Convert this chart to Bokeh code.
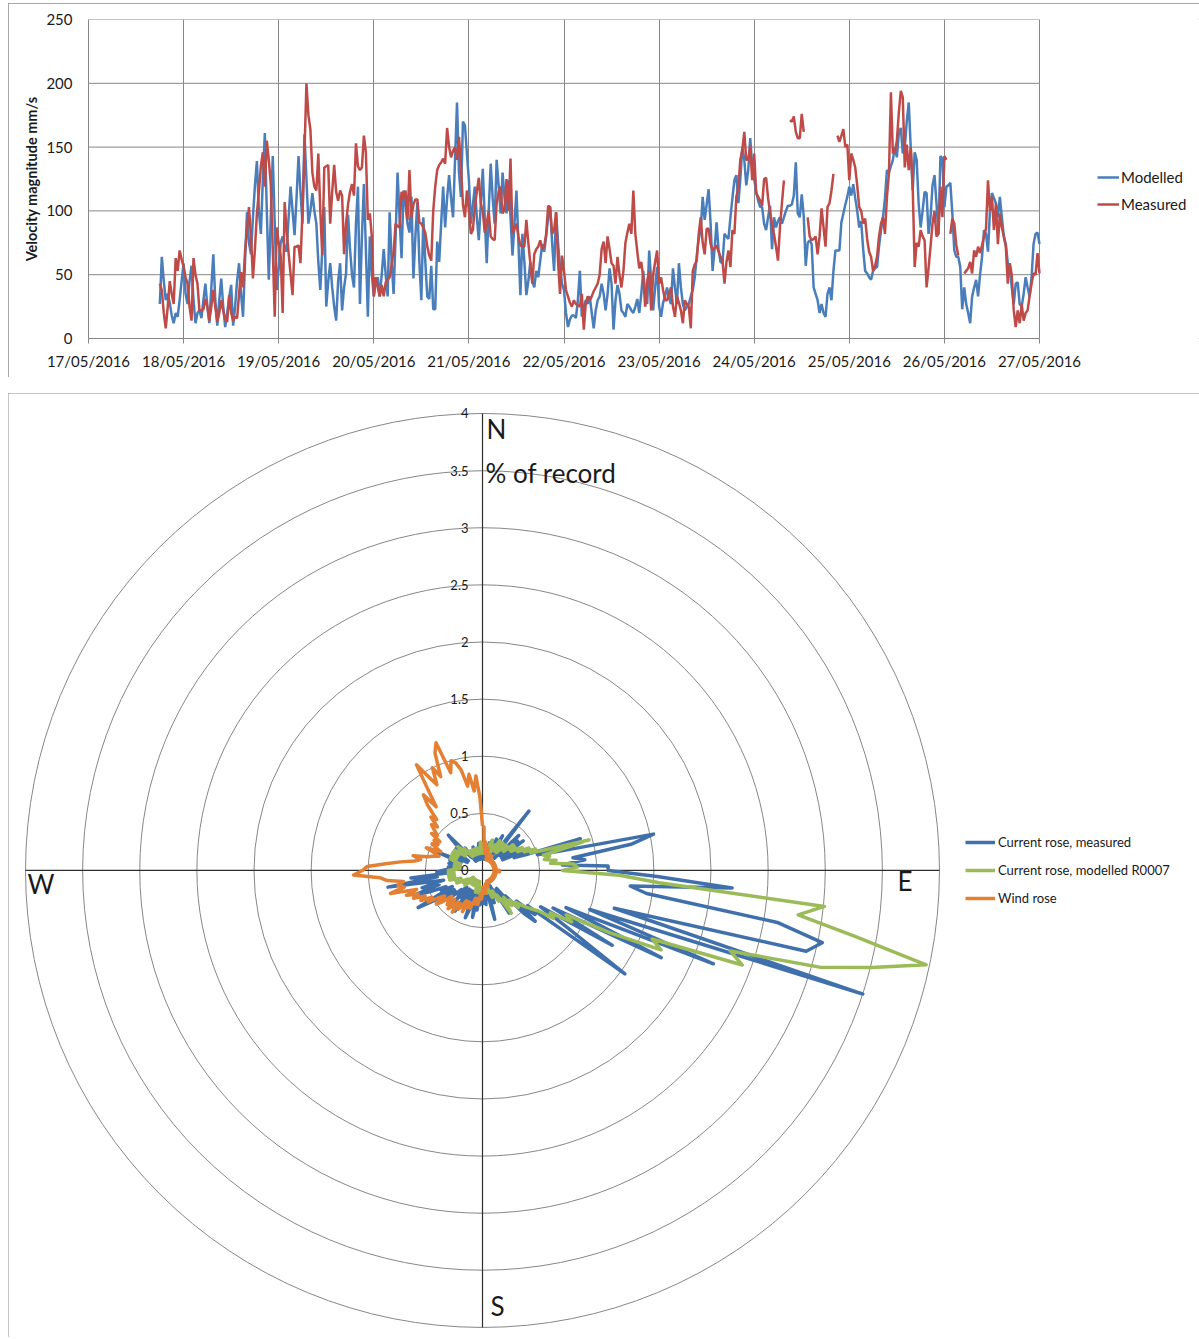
from datetime import datetime, timedelta
import numpy as np
import pandas as pd
from bokeh.plotting import figure
from bokeh.models import (Range1d, DatetimeTickFormatter, DaysTicker, FixedTicker,
                          Legend, LegendItem)
from bokeh.core.properties import value
from bokeh.embed import file_html
from bokeh.resources import INLINE

nan = float("nan")

# ---------------- time series data (30-min samples from 17/05/2016 18:00) ----------------
series_start = "2016-05-17 18:00"
sample_interval = "30min"

modelled = [
    27, 64, 45, 30, 35, 28, 18, 12, 20, 17,
    30, 45, 59, 35, 27, 45, 57, 30, 12, 20,
    22, 16, 30, 43, 25, 12, 40, 66, 30, 10,
    30, 47, 25, 9, 20, 32, 42, 10, 25, 45,
    59, 35, 17, 60, 99, 75, 66, 95, 120, 139,
    100, 82, 125, 161, 100, 46, 95, 143, 90, 38,
    55, 75, 80, 72, 68, 95, 119, 100, 81, 110,
    143, 115, 90, 160, 125, 90, 100, 114, 100, 90,
    60, 38, 70, 103, 25, 45, 59, 40, 25, 14,
    45, 59, 22, 40, 51, 97, 70, 50, 40, 90,
    119, 27, 80, 121, 70, 17, 80, 50, 33, 45,
    48, 33, 50, 70, 50, 33, 99, 60, 35, 80,
    130, 95, 63, 116, 105, 90, 83, 111, 47, 80,
    107, 60, 30, 95, 60, 33, 31, 57, 23, 23,
    76, 60, 90, 119, 87, 110, 128, 110, 95, 140,
    185, 130, 111, 170, 167, 145, 124, 90, 105, 119,
    95, 77, 105, 133, 95, 59, 100, 137, 110, 90,
    140, 120, 98, 130, 110, 98, 124, 95, 65, 90,
    116, 75, 34, 82, 60, 34, 45, 60, 45, 40,
    53, 48, 61, 74, 68, 80, 95, 103, 75, 53,
    99, 75, 55, 43, 38, 20, 9, 15, 18, 18,
    16, 30, 53, 17, 25, 30, 27, 33, 20, 8,
    22, 30, 33, 43, 35, 22, 35, 55, 43, 7,
    30, 42, 35, 22, 20, 17, 27, 25, 22, 20,
    25, 31, 20, 35, 53, 35, 27, 69, 45, 22,
    40, 56, 25, 17, 28, 33, 40, 32, 27, 55,
    40, 27, 59, 40, 27, 22, 25, 27, 33, 38,
    48, 65, 78, 85, 111, 93, 105, 117, 90, 53,
    70, 91, 70, 60, 59, 82, 80, 78, 95, 110,
    124, 128, 106, 125, 150, 140, 120, 132, 157, 135,
    125, 115, 108, 103, 103, 90, 85, 95, 104, 70,
    95, 87, 92, 95, 90, 95, 100, 104, 104, 105,
    112, 138, 98, 95, 113, 96, 57, 75, 77, 74,
    40, 35, 30, 20, 27, 20, 17, 35, 40, 30,
    53, 69, 69, 69, 91, 98, 105, 111, 119, 112,
    121, 110, 100, 87, 92, 70, 53, 51, 48, 46,
    53, 55, 56, 72, 85, 95, 110, 132, 130, 135,
    140, 150, 142, 161, 165, 145, 150, 170, 185, 150,
    116, 146, 140, 106, 87, 100, 115, 114, 82, 95,
    120, 128, 106, 82, 143, 141, 103, 119, 120, 122,
    98, 69, 64, 64, 56, 23, 40, 27, 20, 12,
    33, 40, 46, 33, 50, 64, 85, 82, 68, 100,
    114, 110, 106, 95, 111, 95, 80, 74, 59, 57,
    40, 27, 43, 44, 27, 25, 35, 48, 40, 33,
    48, 74, 82, 83, 74,
]

measured = [
    43, 38, 20, 8, 25, 45, 35, 27, 63, 53,
    69, 62, 56, 48, 43, 25, 14, 63, 50, 43,
    22, 22, 23, 31, 25, 14, 25, 38, 25, 13,
    20, 30, 22, 15, 13, 34, 20, 14, 17, 16,
    35, 52, 40, 68, 85, 103, 80, 47, 70, 98,
    115, 135, 146, 119, 155, 140, 121, 70, 17, 87,
    75, 65, 20, 107, 85, 67, 50, 34, 72, 72,
    73, 59, 100, 145, 200, 175, 164, 130, 119, 116,
    145, 100, 65, 134, 135, 136, 90, 115, 136, 115,
    108, 116, 112, 66, 90, 105, 115, 121, 112, 153,
    135, 132, 134, 159, 146, 93, 98, 80, 33, 48,
    40, 33, 42, 33, 44, 46, 48, 58, 68, 90,
    88, 87, 115, 109, 116, 93, 132, 95, 105, 109,
    109, 91, 90, 87, 83, 72, 65, 61, 100, 119,
    132, 136, 138, 141, 137, 165, 150, 142, 147, 150,
    140, 158, 135, 105, 95, 116, 100, 82, 85, 103,
    115, 126, 106, 100, 83, 90, 100, 80, 78, 77,
    106, 115, 119, 98, 101, 125, 100, 141, 82, 86,
    90, 80, 73, 72, 72, 93, 75, 59, 43, 66,
    70, 72, 77, 70, 72, 82, 104, 103, 82, 85,
    99, 60, 35, 65, 53, 38, 33, 28, 25, 30,
    27, 26, 25, 35, 7, 28, 33, 30, 33, 37,
    40, 43, 50, 70, 76, 59, 80, 70, 59, 57,
    43, 64, 50, 40, 53, 75, 83, 90, 82, 116,
    82, 68, 55, 60, 48, 25, 45, 53, 22, 50,
    60, 69, 43, 48, 38, 30, 30, 35, 40, 25,
    17, 33, 28, 22, 12, 30, 27, 25, 8, 53,
    58, 61, 82, 95, 75, 66, 86, 86, 74, 69,
    71, 73, 68, 64, 61, 43, 60, 69, 56, 85,
    82, 111, 119, 140, 148, 162, 140, 140, 151, 124,
    145, 114, 111, 108, 104, 125, 126, 110, 99, 90,
    82, 72, 61, 87, 106, 124, nan, nan, 171, 170,
    174, 162, 157, 157, 176, 162, nan, 95, 80, 77,
    78, 80, 66, 80, 102, 87, 72, 103, 106, 116,
    129, nan, 159, 154, 159, 164, 150, 152, 124, 145,
    140, 134, 120, 103, 100, 90, 94, 78, 68, 64,
    53, 57, 64, 80, 90, 95, 82, 111, 129, 193,
    145, 146, 155, 177, 194, 189, 134, 152, 132, 150,
    119, 56, 75, 72, 85, 80, 77, 40, 55, 72,
    90, 100, 80, 82, 119, 95, 143, 140, nan, 82,
    94, 90, 73, 65, nan, nan, 51, 53, 55, 60,
    51, 69, 64, 72, 67, 73, 80, 86, 124, 100,
    111, 85, 106, 74, 98, 87, 80, 72, 43, 59,
    50, 22, 9, 22, 12, 27, 14, 20, 22, 33,
    43, 51, 50, 67, 51,
]

axis_start_day = 17
axis_end_day = 27
velocity_ticks = [0, 50, 100, 150, 200, 250]

# ---------------- rose data (% of record per 2-degree direction bin) ----------------
directions_deg = list(range(0, 360, 2))

rose_measured = [
    0.2, 0.1, 0.15, 0.1, 0.2, 0.1, 0.15, 0.25, 0.1, 0.2,
    0.15, 0.1, 0.3, 0.15, 0.2, 0.35, 0.15, 0.25, 0.2, 0.66,
    0.2, 0.3, 0.15, 0.44, 0.2, 0.4, 0.25, 0.44, 0.2, 0.3,
    0.35, 0.2, 0.3, 0.45, 0.3, 0.4, 0.9, 0.5, 0.7, 1.53,
    1.32, 0.8, 0.9, 0.7, 1.1, 1.1, 1.53, 2.19, 1.3, 1.45,
    2.62, 3.04, 2.92, 1.2, 3.5, 1.0, 2.18, 0.8, 1.74, 0.7,
    1.31, 0.6, 0.9, 1.54, 0.5, 0.6, 0.4, 0.64, 0.52, 0.3,
    0.35, 0.2, 0.3, 0.25, 0.44, 0.2, 0.3, 0.15, 0.25, 0.2,
    0.3, 0.15, 0.2, 0.44, 0.2, 0.25, 0.15, 0.3, 0.2, 0.29,
    0.25, 0.15, 0.3, 0.2, 0.35, 0.2, 0.42, 0.3, 0.2, 0.35,
    0.44, 0.2, 0.3, 0.25, 0.35, 0.2, 0.3, 0.43, 0.2, 0.3,
    0.25, 0.35, 0.2, 0.3, 0.25, 0.4, 0.3, 0.45, 0.3, 0.49,
    0.65, 0.3, 0.4, 0.35, 0.5, 0.64, 0.4, 0.55, 0.35, 0.5,
    0.84, 0.4, 0.63, 0.3, 0.4, 0.35, 0.3, 0.25, 0.3, 0.2,
    0.25, 0.3, 0.2, 0.25, 0.3, 0.2, 0.42, 0.2, 0.25, 0.15,
    0.2, 0.3, 0.15, 0.25, 0.2, 0.3, 0.25, 0.3, 0.43, 0.2,
    0.15, 0.25, 0.1, 0.2, 0.15, 0.1, 0.2, 0.15, 0.1, 0.22,
    0.1, 0.15, 0.2, 0.1, 0.15, 0.2, 0.24, 0.15, 0.1, 0.2,
]

rose_modelled = [
    0.2, 0.15, 0.25, 0.2, 0.15, 0.2, 0.15, 0.2, 0.25, 0.28,
    0.2, 0.15, 0.2, 0.25, 0.2, 0.3, 0.2, 0.25, 0.3, 0.2,
    0.25, 0.3, 0.25, 0.3, 0.25, 0.35, 0.3, 0.35, 0.3, 0.35,
    0.4, 0.35, 0.45, 0.4, 0.5, 0.45, 0.6, 0.97, 0.55, 0.6,
    0.55, 0.65, 0.6, 0.8, 0.83, 0.7, 1.2, 1.55, 3.01, 2.79,
    3.3, 3.97, 3.51, 3.07, 2.28, 2.42, 1.6, 1.71, 1.25, 0.83,
    0.9, 0.7, 0.75, 0.6, 0.55, 0.5, 0.45, 0.4, 0.45, 0.35,
    0.4, 0.3, 0.35, 0.45, 0.3, 0.25, 0.3, 0.2, 0.25, 0.2,
    0.25, 0.2, 0.15, 0.2, 0.15, 0.2, 0.15, 0.2, 0.15, 0.2,
    0.15, 0.2, 0.15, 0.2, 0.15, 0.2, 0.15, 0.1, 0.15, 0.2,
    0.15, 0.1, 0.15, 0.1, 0.15, 0.1, 0.15, 0.1, 0.15, 0.1,
    0.15, 0.1, 0.15, 0.1, 0.15, 0.2, 0.15, 0.1, 0.15, 0.2,
    0.15, 0.2, 0.25, 0.2, 0.25, 0.2, 0.25, 0.3, 0.25, 0.3,
    0.25, 0.3, 0.25, 0.3, 0.25, 0.3, 0.25, 0.2, 0.25, 0.2,
    0.25, 0.2, 0.25, 0.2, 0.25, 0.3, 0.25, 0.3, 0.25, 0.3,
    0.25, 0.3, 0.25, 0.3, 0.25, 0.2, 0.25, 0.3, 0.25, 0.2,
    0.25, 0.2, 0.15, 0.2, 0.15, 0.2, 0.15, 0.2, 0.15, 0.2,
    0.15, 0.2, 0.15, 0.2, 0.15, 0.2, 0.15, 0.2, 0.25, 0.2,
]

wind_rose = [
    0.39, 0.38, 0.2, 0.25, 0.15, 0.2, 0.15, 0.2, 0.15, 0.1,
    0.15, 0.1, 0.15, 0.1, 0.15, 0.1, 0.15, 0.1, 0.12, 0.1,
    0.12, 0.1, 0.12, 0.1, 0.12, 0.1, 0.12, 0.1, 0.12, 0.1,
    0.12, 0.1, 0.12, 0.1, 0.12, 0.1, 0.12, 0.1, 0.12, 0.1,
    0.12, 0.1, 0.12, 0.1, 0.12, 0.15, 0.12, 0.15, 0.12, 0.1,
    0.12, 0.1, 0.12, 0.1, 0.12, 0.1, 0.12, 0.1, 0.12, 0.1,
    0.12, 0.1, 0.12, 0.1, 0.12, 0.1, 0.12, 0.1, 0.12, 0.1,
    0.12, 0.1, 0.12, 0.1, 0.12, 0.1, 0.12, 0.1, 0.12, 0.1,
    0.12, 0.15, 0.12, 0.15, 0.12, 0.15, 0.2, 0.15, 0.2, 0.15,
    0.2, 0.25, 0.2, 0.25, 0.3, 0.25, 0.3, 0.25, 0.3, 0.35,
    0.3, 0.35, 0.3, 0.4, 0.3, 0.35, 0.4, 0.35, 0.45, 0.35,
    0.4, 0.45, 0.35, 0.43, 0.4, 0.35, 0.45, 0.5, 0.4, 0.45,
    0.55, 0.5, 0.6, 0.55, 0.65, 0.6, 0.7, 0.6, 0.83, 0.7,
    0.75, 0.7, 0.84, 0.9, 1.13, 1.05, 1.01, 0.85, 0.72, 0.6,
    0.55, 0.62, 0.5, 0.45, 0.4, 0.45, 0.53, 0.4, 0.45, 0.5,
    0.45, 0.5, 0.45, 0.55, 0.5, 0.55, 0.6, 0.55, 0.65, 0.6,
    0.75, 0.84, 0.69, 0.85, 1.09, 0.95, 0.85, 1.0, 0.9, 1.11,
    1.19, 0.9, 1.0, 0.97, 0.9, 0.75, 0.85, 0.7, 0.83, 0.64,
]

ring_values = [0, 0.5, 1, 1.5, 2, 2.5, 3, 3.5, 4]
compass_labels = ["N", "E", "S", "W"]
rose_title = "% of record"

# ---------------- styling ----------------
FONT = "Lato"
GRID = "#878787"
TXT = "#1a1a1a"
BOX = {"outline": "1px solid #8c8c8c", "outline-offset": "-1px"}

# ======================= top chart =======================
t_mod = pd.date_range(series_start, periods=len(modelled), freq=sample_interval)
t_meas = pd.date_range(series_start, periods=len(measured), freq=sample_interval)

ax_start = datetime(2016, 5, axis_start_day)
ax_end = datetime(2016, 5, axis_end_day)
# plot area = 951 px for the 10 days; the frame is extended to the right to hold the legend
frame_w = 1111
view_end = ax_start + timedelta(days=(axis_end_day - axis_start_day) * frame_w / 951.0)

p1 = figure(width=1191, height=374, x_axis_type="datetime",
            x_range=Range1d(ax_start, view_end),
            y_range=Range1d(velocity_ticks[0], velocity_ticks[-1]),
            output_backend="svg", toolbar_location=None,
            min_border_left=80, min_border_right=0, min_border_top=16, min_border_bottom=39,
            margin=(3, 0, 0, 8), styles=BOX)
p1.outline_line_color = None
p1.background_fill_color = "white"

# horizontal gridlines limited to the date span
p1.segment(x0=[ax_start] * len(velocity_ticks), x1=[ax_end] * len(velocity_ticks),
           y0=velocity_ticks, y1=velocity_ticks, line_color=GRID, line_width=1)
p1.ygrid.visible = False

r_mod = p1.line(t_mod, np.array(modelled, dtype=float), line_color="#4A7EBB", line_width=2.5)
r_meas = p1.line(t_meas, np.array(measured, dtype=float), line_color="#BE4B48", line_width=2.5)

day_ticker = DaysTicker(days=list(range(axis_start_day, axis_end_day + 1)))
fmt = "%d/%m/%Y"
xa = p1.xaxis[0]
xa.ticker = day_ticker
xa.bounds = (ax_start, ax_end)
xa.formatter = DatetimeTickFormatter(days=fmt, months=fmt, years=fmt, hours=fmt,
                                     hourmin=fmt, minutes=fmt, minsec=fmt, seconds=fmt,
                                     milliseconds=fmt, microseconds=fmt)
p1.xgrid[0].ticker = day_ticker
p1.xgrid[0].grid_line_color = GRID
p1.xgrid[0].grid_line_width = 1
ya = p1.yaxis[0]
ya.ticker = FixedTicker(ticks=velocity_ticks)

xa.axis_line_color = GRID
xa.major_tick_line_color = GRID
xa.major_tick_out = 5
xa.major_tick_in = 0
xa.minor_tick_line_color = None
xa.minor_tick_out = 0
xa.major_label_standoff = 8
ya.axis_line_color = GRID
ya.major_tick_line_color = None
ya.minor_tick_line_color = None
ya.major_tick_out = 0
ya.major_tick_in = 0
ya.minor_tick_out = 0
ya.major_label_standoff = 16
ya.axis_label = "Velocity magnitude mm/s"
ya.axis_label_text_font = FONT
ya.axis_label_text_font_style = "bold"
ya.axis_label_text_font_size = "14.5px"
ya.axis_label_text_color = TXT
ya.axis_label_standoff = 3
for ax in (xa, ya):
    ax.major_label_text_font = FONT
    ax.major_label_text_font_size = "15px"
    ax.major_label_text_color = TXT

leg1 = Legend(items=[LegendItem(label="Modelled", renderers=[r_mod]),
                     LegendItem(label="Measured", renderers=[r_meas])],
              location=(1009, 125), orientation="vertical",
              glyph_width=22, glyph_height=16, label_height=16, spacing=9,
              padding=0, margin=0, label_standoff=2,
              border_line_color=None, background_fill_alpha=0,
              label_text_font=FONT, label_text_font_size="15px", label_text_color=TXT)
p1.add_layout(leg1)

# ======================= rose chart =======================
R = ring_values[-1]
p2 = figure(width=1191, height=944,
            x_range=Range1d(-4.149, 6.276), y_range=Range1d(-4.088, 4.175),
            x_axis_location=None, y_axis_location=None, min_border=0,
            output_backend="svg", toolbar_location=None,
            margin=(16, 0, 0, 8), styles=BOX)
p2.outline_line_color = None
p2.grid.visible = False

p2.circle(x=0, y=0, radius=ring_values[1:], fill_color=None, line_color=GRID, line_width=1)
p2.segment(x0=[-R, 0], y0=[0, -R], x1=[R, 0], y1=[0, R], line_color="#2e2e2e", line_width=1.2)


def polar_xy(vals):
    th = np.radians(np.r_[directions_deg, directions_deg[0]])
    r = np.r_[vals, vals[0]]
    return r * np.sin(th), r * np.cos(th)


xb, yb = polar_xy(rose_measured)
xg, yg = polar_xy(rose_modelled)
xo, yo = polar_xy(wind_rose)
rb = p2.line(xb, yb, line_color="#4070AC", line_width=3.5, line_join="round")
rg = p2.line(xg, yg, line_color="#9BBB59", line_width=3.5, line_join="round")
ro = p2.line(xo, yo, line_color="#E38034", line_width=3.5, line_join="round")

p2.text(x=0, y=ring_values, text=[f"{v:g}" for v in ring_values], x_offset=-14,
        text_align="right", text_baseline="middle", text_font=value(FONT),
        text_font_size="13px", text_color=TXT)

p2.text(x=[0], y=[R], text=[compass_labels[0]], x_offset=4, y_offset=0,
        text_baseline="top", text_font=value(FONT), text_font_size="26px", text_color=TXT)
p2.text(x=[R], y=[0], text=[compass_labels[1]], x_offset=-42, y_offset=-5,
        text_baseline="top", text_font=value(FONT), text_font_size="26px", text_color=TXT)
p2.text(x=[0], y=[-R], text=[compass_labels[2]], x_offset=8, y_offset=-5,
        text_baseline="bottom", text_font=value(FONT), text_font_size="26px", text_color=TXT)
p2.text(x=[-R], y=[0], text=[compass_labels[3]], x_offset=2, y_offset=-2,
        text_baseline="top", text_font=value(FONT), text_font_size="26px", text_color=TXT)
p2.text(x=[0], y=[ring_values[-2]], text=[rose_title], x_offset=3, y_offset=2,
        text_baseline="middle", text_font=value(FONT), text_font_size="26px", text_color=TXT)

leg2 = Legend(items=[LegendItem(label="Current rose, measured", renderers=[rb]),
                     LegendItem(label="Current rose, modelled R0007", renderers=[rg]),
                     LegendItem(label="Wind rose", renderers=[ro])],
              location=(957, 429), orientation="vertical",
              glyph_width=30, glyph_height=20, label_height=20, spacing=8,
              padding=0, margin=0, label_standoff=3,
              border_line_color=None, background_fill_alpha=0,
              label_text_font=FONT, label_text_font_size="13px", label_text_color=TXT)
p2.add_layout(leg2)

open("out.html", "w").write(file_html([p1, p2], INLINE))
